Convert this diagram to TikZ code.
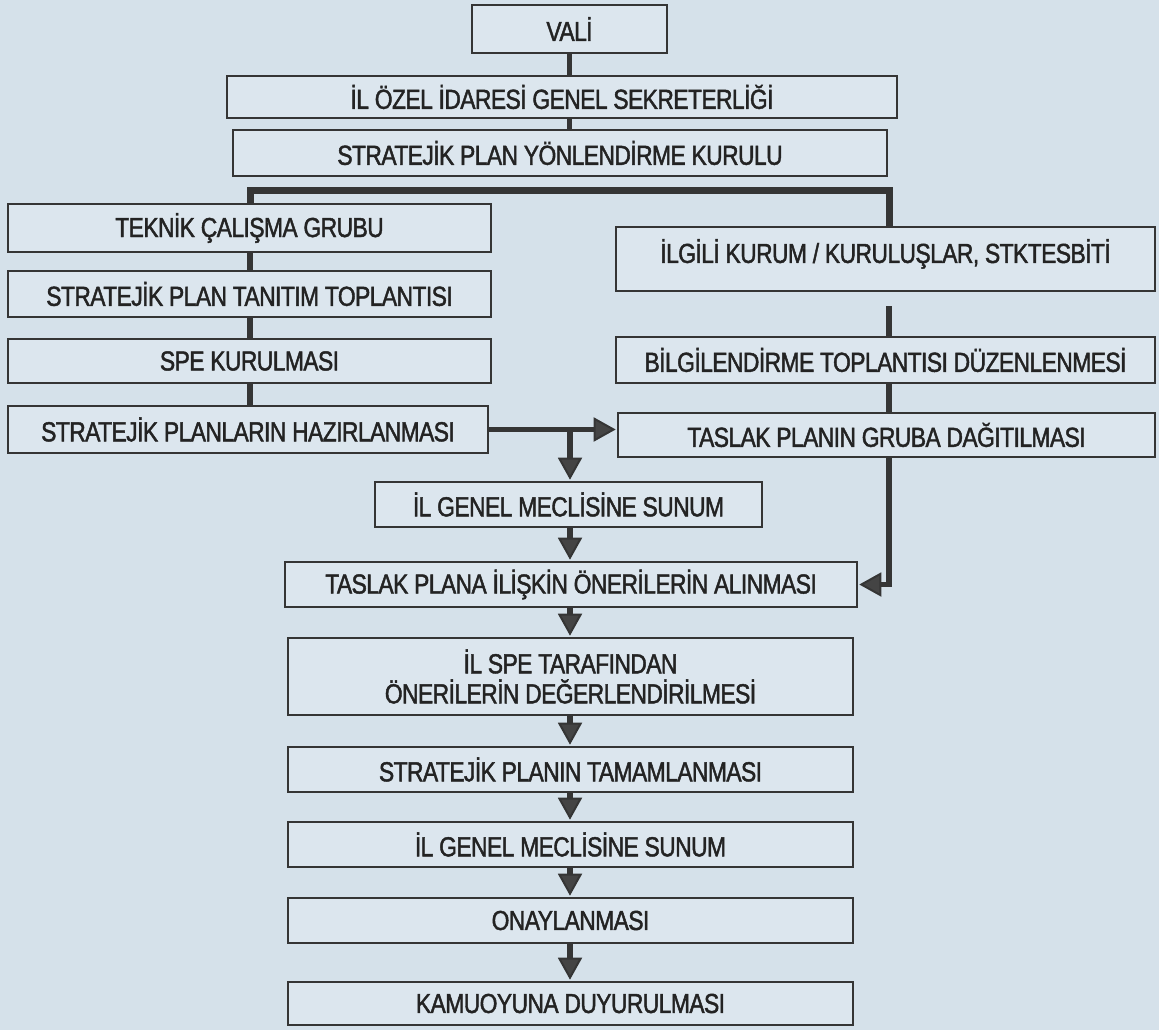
\documentclass[tikz,border=0pt]{standalone}
\usepackage{fontspec}
\setmainfont{Liberation Sans}[FakeStretch=0.83, FakeBold=1.6, LetterSpace=-2]
\usetikzlibrary{arrows.meta}
\definecolor{bgc}{HTML}{D5E1EA}
\definecolor{boxc}{HTML}{DCE6EE}
\definecolor{inkc}{HTML}{353535}
\definecolor{tipc}{HTML}{444444}
\definecolor{txtc}{HTML}{232323}
\tikzset{
  box/.style={draw=inkc, line width=2.6pt, fill=boxc, inner sep=0pt,
    font=\fontsize{27.5}{30}\selectfont, text=txtc, align=center},
  conn/.style={draw=inkc, line width=5.5pt},
  arr/.style={conn, -{Triangle[width=24pt, length=22pt, line width=2pt, fill=tipc]}, shorten >=1pt},
}
\begin{document}
\begin{tikzpicture}[x=1pt, y=-1pt]
\fill[bgc] (0,0) rectangle (1159,1030);
\useasboundingbox (0,0) rectangle (1159,1030);
% top
\node[box, minimum width=195, minimum height=48] (vali) at (569.5,29) {VALİ};
\node[box, minimum width=670, minimum height=42] (ilozel) at (562,97) {İL ÖZEL İDARESİ GENEL SEKRETERLİĞİ};
\node[box, minimum width=654, minimum height=46] (spyk) at (560,153) {STRATEJİK PLAN YÖNLENDİRME KURULU};
% left column
\node[box, minimum width=483, minimum height=48] (tek) at (249.5,228) {TEKNİK ÇALIŞMA GRUBU};
\node[box, minimum width=483, minimum height=46] (tan) at (249.5,294) {STRATEJİK PLAN TANITIM TOPLANTISI};
\node[box, minimum width=483, minimum height=44] (spe) at (249.5,361) {SPE KURULMASI};
\node[box, minimum width=480, minimum height=47] (haz) at (248,429.5) {STRATEJİK PLANLARIN HAZIRLANMASI};
% right column
\node[box, minimum width=539, minimum height=64, text depth=16pt] (ilg) at (885.5,259) {İLGİLİ KURUM / KURULUŞLAR, STKTESBİTİ};
\node[box, minimum width=539, minimum height=46] (bil) at (885.5,360) {BİLGİLENDİRME TOPLANTISI DÜZENLENMESİ};
\node[box, minimum width=537, minimum height=44] (tpg) at (886.5,435) {TASLAK PLANIN GRUBA DAĞITILMASI};
% central column
\node[box, minimum width=387, minimum height=45] (gen1) at (568.5,504.5) {İL GENEL MECLİSİNE SUNUM};
\node[box, minimum width=572, minimum height=45] (tpa) at (571,584.5) {TASLAK PLANA İLİŞKİN ÖNERİLERİN ALINMASI};
\node[box, minimum width=565, minimum height=77] (ilspe) at (570.5,676.5) {İL SPE TARAFINDAN\\ÖNERİLERİN DEĞERLENDİRİLMESİ};
\node[box, minimum width=565, minimum height=45] (tam) at (570.5,769.5) {STRATEJİK PLANIN TAMAMLANMASI};
\node[box, minimum width=565, minimum height=45] (gen2) at (570.5,844.5) {İL GENEL MECLİSİNE SUNUM};
\node[box, minimum width=565, minimum height=45] (ona) at (570.5,920.5) {ONAYLANMASI};
\node[box, minimum width=565, minimum height=43] (kam) at (570.5,1003.5) {KAMUOYUNA DUYURULMASI};
% coordinates
\coordinate (barL) at (250,190);
\coordinate (barR) at (889,190);
\coordinate (gapTop) at (889,306);
\coordinate (br) at (570,429.5);
\coordinate (mc) at (570,0);
% connectors top
\draw[conn] (vali.south) -- (vali.south |- ilozel.north);
\draw[conn] (vali.south |- ilozel.south) -- (vali.south |- spyk.north);
\draw[conn, line width=7pt] (barL |- tek.north) -- (barL) -- (barR) -- (barR |- ilg.north);
% left column
\draw[conn] (barL |- tek.south) -- (barL |- tan.north);
\draw[conn] (barL |- tan.south) -- (barL |- spe.north);
\draw[conn] (barL |- spe.south) -- (barL |- haz.north);
% right column
\draw[conn] (gapTop) -- (gapTop |- bil.north);
\draw[conn] (barR |- bil.south) -- (barR |- tpg.north);
\draw[arr] (barR |- tpg.south) -- (barR |- tpa.east) -- (tpa.east);
% cross
\draw[arr] (haz.east) -- (tpg.west |- haz.east);
\draw[arr] (br) -- (br |- gen1.north);
% central
\draw[arr] (mc |- gen1.south) -- (mc |- tpa.north);
\draw[arr] (mc |- tpa.south) -- (mc |- ilspe.north);
\draw[arr] (mc |- ilspe.south) -- (mc |- tam.north);
\draw[arr] (mc |- tam.south) -- (mc |- gen2.north);
\draw[arr] (mc |- gen2.south) -- (mc |- ona.north);
\draw[arr] (mc |- ona.south) -- (mc |- kam.north);
\end{tikzpicture}
\end{document}
